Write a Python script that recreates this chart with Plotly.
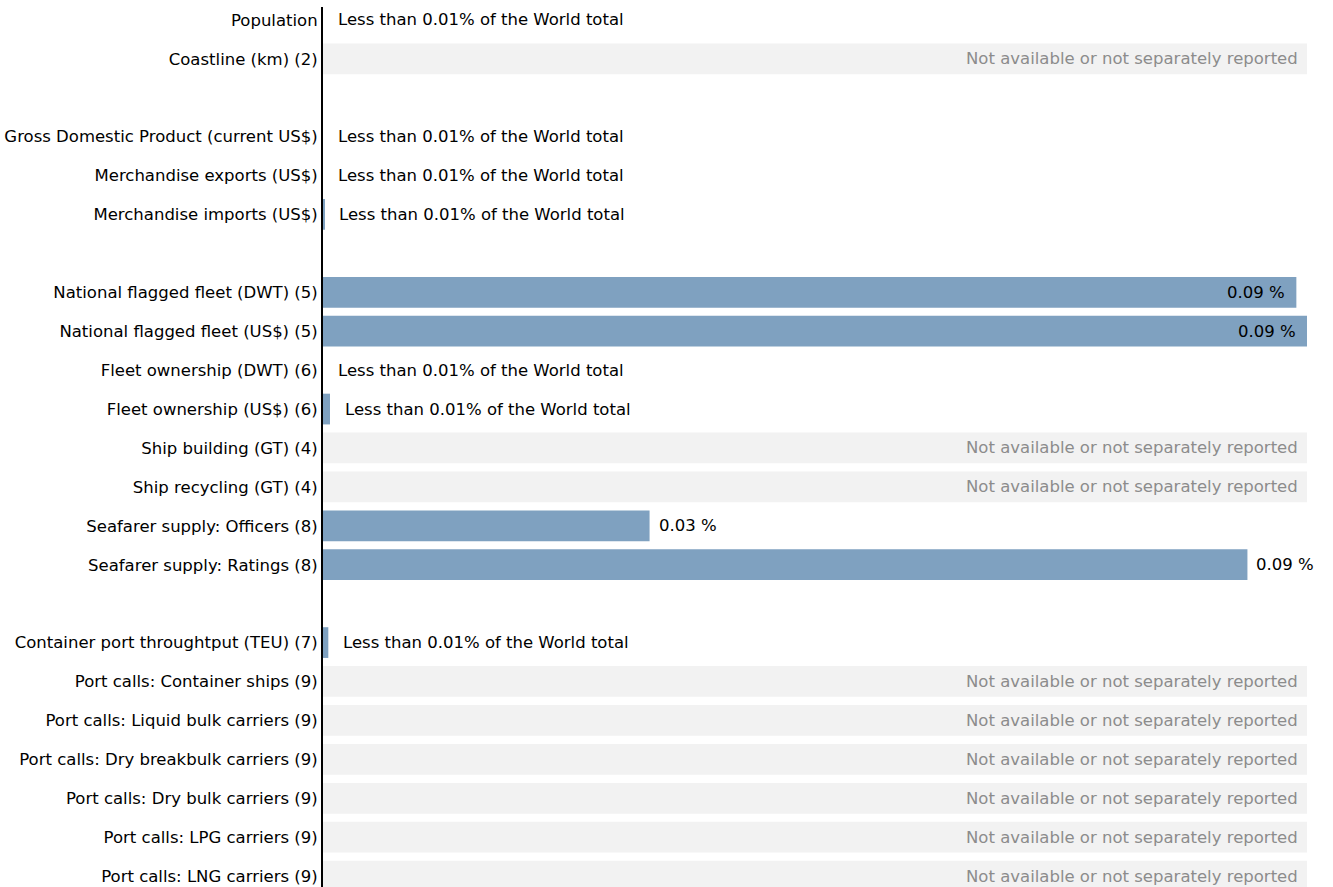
import plotly.graph_objects as go

# Indicator rows, top to bottom; empty names are spacer rows between groups
indicators = [
    "Population",
    "Coastline (km) (2)",
    "",
    "Gross Domestic Product (current US$)",
    "Merchandise exports (US$)",
    "Merchandise imports (US$)",
    "",
    "National flagged fleet (DWT) (5)",
    "National flagged fleet (US$) (5)",
    "Fleet ownership (DWT) (6)",
    "Fleet ownership (US$) (6)",
    "Ship building (GT) (4)",
    "Ship recycling (GT) (4)",
    "Seafarer supply: Officers (8)",
    "Seafarer supply: Ratings (8)",
    "",
    "Container port throughtput (TEU) (7)",
    "Port calls: Container ships (9)",
    "Port calls: Liquid bulk carriers (9)",
    "Port calls: Dry breakbulk carriers (9)",
    "Port calls: Dry bulk carriers (9)",
    "Port calls: LPG carriers (9)",
    "Port calls: LNG carriers (9)",
]

# Share of the world total in percent; None = not available / spacer
world_share = [
    0.0, None, None,
    0.0, 0.0, 0.0001, None,
    0.0915, 0.0925, 0.0, 0.00066, None, None, 0.0307, 0.0869, None,
    0.0005, None, None, None, None, None, None,
]

NA_TEXT = "Not available or not separately reported"
LOW_TEXT = "Less than 0.01% of the World total"

FONT = "Tahoma, Verdana, DejaVu Sans, sans-serif"
FONT_SIZE = 16.5
BAR_COLOR = "#7fa1c0"
NA_COLOR = "#f2f2f2"

# unique category keys (spacers need distinct keys)
keys = [name if name else " " * (i + 1) for i, name in enumerate(indicators)]
xmax = max(v for v in world_share if v is not None)

available = [(k, v) for k, v, n in zip(keys, world_share, indicators) if v is not None]
missing = [k for k, v, n in zip(keys, world_share, indicators) if v is None and n]

fig = go.Figure()

fig.add_trace(go.Bar(
    y=missing, x=[xmax] * len(missing), orientation="h",
    marker=dict(color=NA_COLOR, line=dict(width=0)),
    hoverinfo="skip", showlegend=False,
))
fig.add_trace(go.Bar(
    y=[k for k, _ in available], x=[v for _, v in available], orientation="h",
    marker=dict(color=BAR_COLOR, line=dict(width=0)),
    showlegend=False,
))

annotations = []
for k in missing:
    annotations.append(dict(
        x=xmax, y=k, xref="x", yref="y", text=NA_TEXT, showarrow=False,
        xanchor="right", xshift=-7, font=dict(family=FONT, size=FONT_SIZE, color="#8c8c8c"),
    ))
for k, v in available:
    if v < 0.01:
        annotations.append(dict(
            x=v, y=k, xref="x", yref="y", text=LOW_TEXT, showarrow=False,
            xanchor="left", xshift=13, font=dict(family=FONT, size=FONT_SIZE, color="#000000"),
        ))
    elif v >= 0.97 * xmax:
        annotations.append(dict(
            x=v, y=k, xref="x", yref="y", text=f"{v:.2f} %", showarrow=False,
            xanchor="right", xshift=-9, font=dict(family=FONT, size=FONT_SIZE, color="#000000"),
        ))
    else:
        annotations.append(dict(
            x=v, y=k, xref="x", yref="y", text=f"{v:.2f} %", showarrow=False,
            xanchor="left", xshift=7, font=dict(family=FONT, size=FONT_SIZE, color="#000000"),
        ))

fig.update_layout(
    width=1333, height=887,
    margin=dict(l=323, r=26, t=7, b=0),
    plot_bgcolor="white", paper_bgcolor="white",
    barmode="overlay", bargap=0.21,
    font=dict(family=FONT, size=FONT_SIZE, color="#000000"),
    annotations=annotations,
    xaxis=dict(range=[0, xmax], visible=False, fixedrange=True),
    yaxis=dict(
        type="category", categoryorder="array", categoryarray=keys,
        tickmode="array", tickvals=keys, ticktext=indicators,
        range=[22.28, -0.33],
        showline=True, linecolor="#000000", linewidth=2,
        showgrid=False, zeroline=False, ticks="", ticklabelstandoff=0,
        tickfont=dict(family=FONT, size=FONT_SIZE, color="#000000"),
    ),
)

fig.write_html("out.html")
